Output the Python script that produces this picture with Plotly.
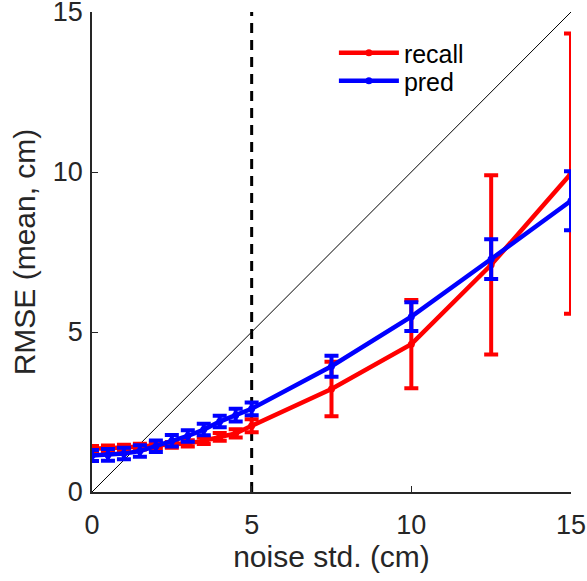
import plotly.graph_objects as go

# noise levels (cm)
noise = [0, 0.5, 1, 1.5, 2, 2.5, 3, 3.5, 4, 4.5, 5, 7.5, 10, 12.5, 15]

# recall RMSE mean and error
recall_mean = [1.35, 1.36, 1.39, 1.42, 1.45, 1.47, 1.52, 1.6, 1.72, 1.83, 2.07, 3.22, 4.62, 7.1, 9.95]
recall_err = [0.09, 0.09, 0.09, 0.09, 0.09, 0.09, 0.1, 0.1, 0.12, 0.13, 0.2, 0.85, 1.38, 2.8, 4.38]

# pred RMSE mean and error
pred_mean = [1.14, 1.16, 1.2, 1.28, 1.43, 1.6, 1.75, 1.95, 2.2, 2.4, 2.6, 3.93, 5.48, 7.28, 9.1]
pred_err = [0.17, 0.18, 0.18, 0.18, 0.18, 0.18, 0.18, 0.18, 0.18, 0.2, 0.2, 0.33, 0.45, 0.62, 0.92]

axis_range = [0, 15]
tick_vals = [0, 5, 10, 15]
threshold = 5

FONT = "Liberation Sans, Arial, Helvetica, sans-serif"
INK = "#262626"

fig = go.Figure()

# identity reference line
fig.add_trace(go.Scatter(
    x=axis_range, y=axis_range, mode="lines",
    line=dict(color="black", width=1), showlegend=False, hoverinfo="skip"))

# vertical dashed threshold
fig.add_trace(go.Scatter(
    x=[threshold, threshold], y=axis_range, mode="lines",
    line=dict(color="black", width=3, dash="10px,7px"), showlegend=False, hoverinfo="skip"))

fig.add_trace(go.Scatter(
    x=noise, y=recall_mean, mode="lines+markers", name="recall", legend="legend",
    line=dict(color="#ff0000", width=4.5),
    marker=dict(color="#ff0000", size=7),
    error_y=dict(type="data", array=recall_err, color="#ff0000", thickness=4, width=7)))

fig.add_trace(go.Scatter(
    x=noise, y=pred_mean, mode="lines+markers", name="pred", legend="legend2",
    line=dict(color="#0000ff", width=4.5),
    marker=dict(color="#0000ff", size=7),
    error_y=dict(type="data", array=pred_err, color="#0000ff", thickness=4, width=7)))

axis_style = dict(
    range=axis_range, tickvals=tick_vals, ticks="inside", ticklen=6, tickwidth=1.2,
    tickcolor=INK, showline=True, linecolor=INK, linewidth=1.5,
    showgrid=False, zeroline=False, ticklabeloverflow="allow",
    tickfont=dict(size=27, color=INK, family=FONT),
)

legend_style = dict(xanchor="left", yanchor="middle", font=dict(size=25, color="black", family=FONT),
                    bgcolor="rgba(0,0,0,0)", itemwidth=60)

fig.update_layout(
    width=587, height=581,
    margin=dict(l=92, r=16, t=12, b=89),
    paper_bgcolor="white", plot_bgcolor="white",
    font=dict(family=FONT, color=INK),
    xaxis=dict(axis_style, ticklabelstandoff=8, automargin="bottom",
               title=dict(text="noise std. (cm)", font=dict(size=30, color=INK), standoff=6)),
    yaxis=dict(axis_style, ticklabelstandoff=2, automargin="left",
               title=dict(text="RMSE (mean, cm)", font=dict(size=30, color=INK), standoff=8)),
    legend=dict(legend_style, x=0.505, y=(491 - 52) / 480),
    legend2=dict(legend_style, x=0.505, y=(491 - 80) / 480),
)

fig.write_html("out.html")
